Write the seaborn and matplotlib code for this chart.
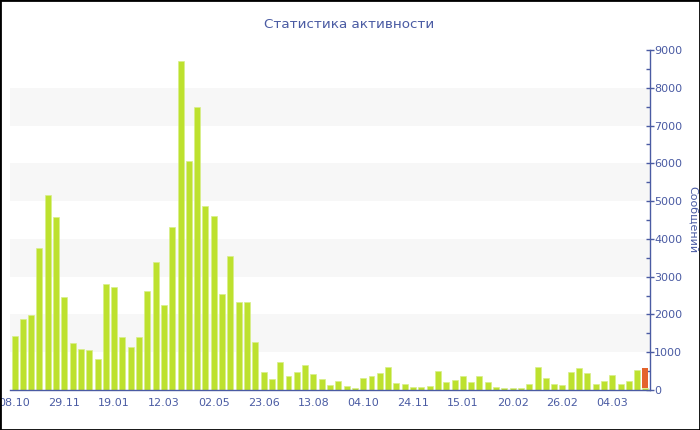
"""
Статистика активности - столбчатая диаграмма
"""
import matplotlib
matplotlib.use('Agg')
import matplotlib.pyplot as plt
import seaborn as sns
import numpy as np
from matplotlib.patches import Rectangle
from matplotlib.ticker import MultipleLocator

# данные
messages = [1430, 1890, 1980, 3770, 5170, 4570, 2460, 1240, 1090, 1070,
            830, 2810, 2720, 1410, 1150, 1390, 2630, 3380, 2240, 4310,
            8700, 6070, 7500, 4860, 4610, 2550, 3550, 2330, 2330, 1280,
            485, 290, 730, 370, 485, 660, 425, 290, 125, 245,
            105, 60, 320, 360, 460, 600, 185, 150, 70, 70,
            105, 505, 220, 255, 360, 220, 380, 220, 80, 45,
            55, 55, 170, 600, 310, 170, 125, 475, 590, 450,
            150, 230, 400, 150, 240, 540, 60]
current = [0] * 76 + [530]
tick_labels = ['08.10', '29.11', '19.01', '12.03', '02.05', '23.06', '13.08',
               '04.10', '24.11', '15.01', '20.02', '26.02', '04.03']

GREEN = '#bde12e'
ORANGE = '#e4632b'
BLUE = '#4a5ba3'

sns.set_style('white')
plt.rcParams['font.family'] = ['DejaVu Sans']

fig = plt.figure(figsize=(7, 4.3), dpi=100)
ax = fig.add_axes([10 / 700, 40 / 430, 640 / 700, 340 / 430])

x = np.arange(len(messages))

# полосы фона
for lo in range(1000, 9000, 2000):
    ax.axhspan(lo, lo + 1000, color='#f7f7f7', zorder=0, lw=0)

sns.barplot(x=x, y=messages, color=GREEN, width=0.72, saturation=1,
            edgecolor='#d8ef8a', linewidth=0.5, ax=ax, zorder=2)
sns.barplot(x=x, y=current, color=ORANGE, width=0.72, saturation=1,
            bottom=messages, linewidth=0, ax=ax, zorder=2)

ax.set_xlim(-0.55, len(messages) - 0.45)
ax.set_ylim(0, 9000)
ax.set_xticks(range(0, len(messages), 6))
ax.set_xticklabels(tick_labels)

ax.yaxis.tick_right()
ax.yaxis.set_major_locator(MultipleLocator(1000))
ax.yaxis.set_minor_locator(MultipleLocator(500))
ax.tick_params(axis='y', which='major', direction='inout', length=6,
               width=1, color=BLUE, labelcolor=BLUE, labelsize=8, pad=0)
ax.tick_params(axis='y', which='minor', direction='in', length=3,
               width=1, color=BLUE)
ax.tick_params(axis='x', direction='out', length=4, width=1, color=BLUE,
               labelcolor=BLUE, labelsize=8, pad=2)
ax.tick_params(left=False, right=True, which='both')

for side in ['left', 'top']:
    ax.spines[side].set_visible(False)
for side in ['right', 'bottom']:
    ax.spines[side].set_color(BLUE)
    ax.spines[side].set_linewidth(1)
ax.set_xlabel('')
ax.set_ylabel('')

fig.text(349 / 700, 1 - 25 / 430, 'Статистика активности', color=BLUE,
         fontsize=9.7, ha='center', va='center')
fig.text(693 / 700, 1 - 220 / 430, 'Сообщений', color=BLUE, fontsize=8,
         rotation=270, ha='center', va='center')

fig.patches.append(Rectangle((0, 0), 1, 1, transform=fig.transFigure,
                             fill=False, edgecolor='black', linewidth=2))

fig.savefig('out.png', dpi=100)
